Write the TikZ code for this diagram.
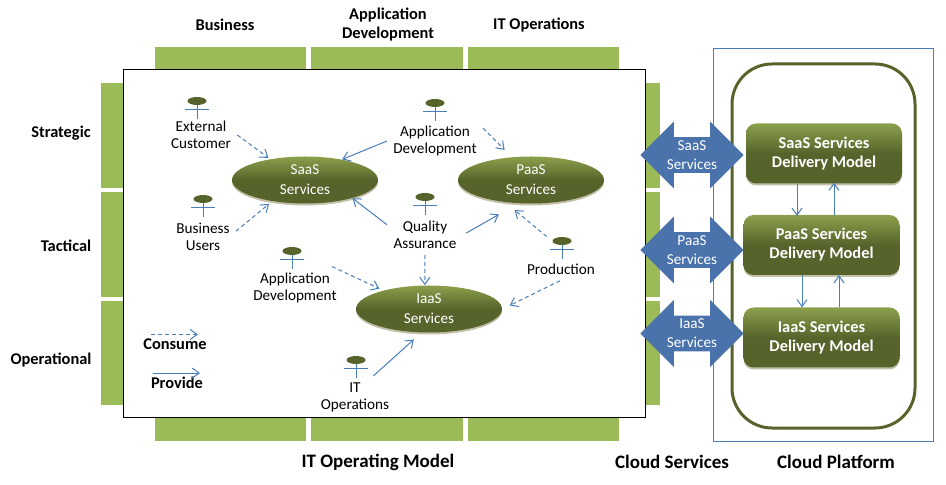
\documentclass[tikz,border=0pt]{standalone}
\usepackage{fontspec}
\setmainfont{Carlito}
\usetikzlibrary{shapes.geometric,shapes.arrows,shadows,arrows.meta}
\definecolor{barGreen}{HTML}{9BBB59}
\definecolor{oliveDark}{HTML}{56642B}
\definecolor{oliveLight}{HTML}{8CA04C}
\definecolor{oliveShadow}{HTML}{C4BFA8}
\definecolor{lineBlue}{HTML}{4A7EBB}
\definecolor{flowBlue}{HTML}{4A72AB}
\begin{document}
\begin{tikzpicture}[x=0.5pt, y=-0.5pt, font=\fontsize{7.6}{10}\selectfont,
	heading/.style={font=\fontsize{8.2}{9.5}\selectfont\bfseries, align=center},
	bigheading/.style={font=\fontsize{9.5}{10}\selectfont\bfseries, align=center},
	actorname/.style={align=center, inner sep=3pt, font=\fontsize{7.6}{8.5}\selectfont},
	actor/.style={ellipse, fill=oliveDark, minimum width=9.5pt, minimum height=4pt, inner sep=0pt},
	service/.style={ellipse, top color=oliveLight, bottom color=oliveDark, middle color=oliveDark, text=white, align=center, minimum width=73pt, minimum height=23.5pt, inner sep=-4pt, drop shadow={shadow xshift=0pt, shadow yshift=-1pt, fill=oliveShadow, opacity=1}},
	delivery/.style={rectangle, rounded corners=5pt, top color=oliveLight, bottom color=oliveDark, middle color=oliveDark, text=white, align=center, font=\fontsize{8.2}{9.5}\selectfont\bfseries, minimum width=78pt, minimum height=30pt, drop shadow={shadow xshift=0pt, shadow yshift=-1pt, fill=oliveShadow, opacity=1}},
	flow/.style={double arrow, fill=flowBlue, draw=flowBlue, minimum height=51pt, inner sep=0pt, inner ysep=8.5pt, double arrow head extend=7.5pt, label={[text=white, align=center, font=\fontsize{7.6}{9.5}\selectfont]center:#1}},
	wire/.style={lineBlue, line width=0.5pt},
	provide/.style={wire, -{Straight Barb[length=3.5pt,width=5pt]}},
	consume/.style={provide, dash pattern=on 2pt off 1.5pt}]
	\useasboundingbox (0,0) rectangle (946,485);
	% green bars around the model
	\foreach \xa/\xb in {155/306,311/463,468/619}{
		\fill[barGreen] (\xa,47) rectangle (\xb,70);
		\fill[barGreen] (\xa,418) rectangle (\xb,441);
	}
	\foreach \ya/\yb in {83/188,192/297,301/405}{
		\fill[barGreen] (101,\ya) rectangle (124,\yb);
		\fill[barGreen] (645,\ya) rectangle (660,\yb);
	}
	\draw[black, fill=white, line width=0.5pt] (123,70) rectangle (645,418);
	% cloud platform
	\draw[wire] (713,49) rectangle (933,441);
	\draw[oliveDark, line width=1.5pt, rounded corners=20pt] (732,64) rectangle (915,428);
	\node[heading] (business) at (225,25) {Business};
	\node[heading] (appdevhead) at (388,25) {Application\\Development};
	\node[heading] (itophead) at (539,25.5) {IT Operations};
	\node[heading] (strategic) at (61,133) {Strategic};
	\node[heading] (tactical) at (66,246) {Tactical};
	\node[heading] (operational) at (51,360) {Operational};
	\node[bigheading] (itmodel) at (378,462) {IT Operating Model};
	\node[bigheading] (cloudsrv) at (672,462) {Cloud Services};
	\node[bigheading] (cloudplat) at (836,462) {Cloud Platform};
	\node[service] (saas) at (305,180) {SaaS\\Services};
	\node[service] (paas) at (531,180) {PaaS\\Services};
	\node[service] (iaas) at (429,309) {IaaS\\Services};
	\foreach \n/\x/\y in {extoval/197/101,busoval/203/199,appoval/435/103,qualoval/425/197,devoval/292/251,prodoval/562/241,itoval/356/360}{
		\node[actor] (\n) at (\x,\y) {};
		\draw[wire] (\n) ++(-12,9) -- ++(24,0) (\n) ++(0,4) -- ++(0,14);
	}
	\node[actorname] (extcust) at (201,135) {External\\Customer};
	\node[actorname] (bususer) at (203,237) {Business\\Users};
	\node[actorname] (appdev) at (435,141) {Application\\Development};
	\node[actorname] (quality) at (425,235) {Quality\\Assurance};
	\node[actorname] (devel) at (295,288) {Application\\Development};
	\node[actorname] (prod) at (561,269) {Production};
	\node[actorname] (itop) at (355,397) {IT\\Operations};
	\draw[consume, shorten >=1pt] (extcust.east) -- (saas.149);
	\draw[consume, shorten >=2pt] (bususer.10) -- (saas.213);
	\draw[provide] (appdev.west) -- (saas.29);
	\draw[consume, shorten >=5pt] (appdev.15) -- (paas.130);
	\draw[provide] (quality.165) -- (saas.-21);
	\draw[provide, shorten <=2pt, shorten >=11pt] (quality.east) -- (paas.-119);
	\draw[consume] (quality) ++(0,20) -- (iaas.100);
	\draw[consume, shorten >=2pt] (devel.30) -- (iaas.158);
	\draw[consume, shorten <=3.5pt, shorten >=6pt] (prodoval.west) -- (paas.-139);
	\draw[consume, shorten >=4pt] (prod.-95) -- (iaas.east);
	\draw[provide, shorten >=5pt] (itop.49) -- (iaas.-108);
	% legend
	\node[heading] (consumetxt) at (175,344) {Consume};
	\node[heading] (providetxt) at (177,383) {Provide};
	\draw[consume] (consumetxt.north) ++(-24,3) -- ++(47,0);
	\draw[provide] (providetxt.north) ++(-24,3) -- ++(47,0);
	% delivery models
	\node[delivery] (saasmodel) at (824,153.5) {SaaS Services\\Delivery Model};
	\node[delivery] (paasmodel) at (821.5,245) {PaaS Services\\Delivery Model};
	\node[delivery] (iaasmodel) at (821.5,337.5) {IaaS Services\\Delivery Model};
	\draw[provide] (saasmodel.south) ++(-27,0) -- ++(0,32);
	\draw[provide] (paasmodel.north) ++(12.5,0) -- ++(0,-32);
	\draw[provide] (paasmodel.south) ++(-19.5,0) -- ++(0,32);
	\draw[provide] (iaasmodel.north) ++(17.5,0) -- ++(0,-32);
	\node[flow={SaaS\\Services}] (saasflow) at (692,155) {};
	\node[flow={PaaS\\Services}] (paasflow) at (692,250) {};
	\node[flow={IaaS\\Services}] (iaasflow) at (692,333.5) {};
\end{tikzpicture}
\end{document}
